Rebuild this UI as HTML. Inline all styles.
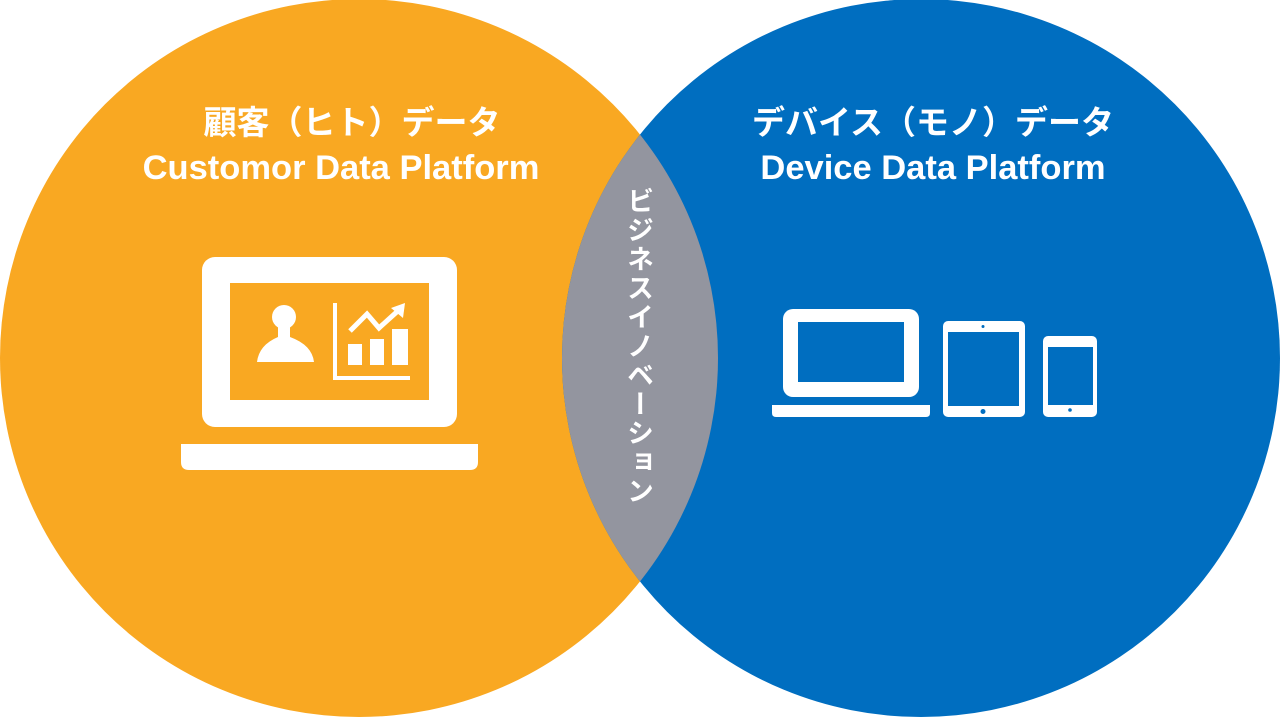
<!DOCTYPE html>
<html><head><meta charset="utf-8"><style>
body{margin:0;width:1280px;height:717px;overflow:hidden;background:#fff;position:relative}
svg{display:block}
text{font-family:"Liberation Sans","Noto Sans CJK JP",sans-serif;font-weight:bold;fill:#fff}
.v{position:absolute;left:623px;top:187px;width:34px;writing-mode:vertical-rl;text-orientation:upright;font-family:"Noto Sans CJK JP",sans-serif;font-size:27px;line-height:34px;letter-spacing:2px;color:#fff;font-weight:bold}
</style></head><body>
<svg width="1280" height="717" viewBox="0 0 1280 717">
<defs><clipPath id="lc"><circle cx="359" cy="358" r="359"/></clipPath></defs>
<circle cx="359" cy="358" r="359" fill="#F9A822"/>
<circle cx="921" cy="358" r="359" fill="#006EC0"/>
<circle cx="921" cy="358" r="359" fill="#93959F" clip-path="url(#lc)"/>
<text x="352" y="134" font-size="33" text-anchor="middle">顧客（ヒト）データ</text>
<text x="341" y="179" font-size="34.5" text-anchor="middle">Customor Data Platform</text>
<text x="933" y="134" font-size="33" text-anchor="middle">デバイス（モノ）データ</text>
<text x="933" y="179" font-size="34.5" text-anchor="middle">Device Data Platform</text>
<!-- left laptop -->
<rect x="202" y="257" width="255" height="170" rx="13" fill="#fff"/>
<rect x="230" y="283" width="199" height="117" fill="#F9A822"/>
<path d="M181 444H478V462Q478 470 470 470H189Q181 470 181 462Z" fill="#fff"/>
<circle cx="284" cy="317" r="12" fill="#fff"/>
<path d="M278 325h12v12q22 8 24 25h-57q2-17 21-25z" fill="#fff"/>
<rect x="333" y="303" width="4" height="77" fill="#fff"/>
<rect x="333" y="376" width="77" height="4" fill="#fff"/>
<rect x="348" y="344" width="14" height="21" fill="#fff"/>
<rect x="370" y="339" width="14" height="26" fill="#fff"/>
<rect x="392" y="329" width="16" height="36" fill="#fff"/>
<polyline points="350,331 367,314 379,328 400,309" fill="none" stroke="#fff" stroke-width="5"/>
<polygon points="405,303 403,318 391,308" fill="#fff"/>
<!-- right devices -->
<rect x="783" y="309" width="136" height="88" rx="10" fill="#fff"/>
<rect x="798" y="322" width="106" height="60" fill="#006EC0"/>
<path d="M772 405H930V413Q930 417 926 417H776Q772 417 772 413Z" fill="#fff"/>
<rect x="943" y="321" width="82" height="96" rx="5" fill="#fff"/>
<rect x="948" y="332" width="71" height="74" fill="#006EC0"/>
<circle cx="983" cy="326.5" r="1.5" fill="#006EC0"/>
<circle cx="983" cy="411.5" r="2.5" fill="#006EC0"/>
<rect x="1043" y="336" width="54" height="81" rx="5" fill="#fff"/>
<rect x="1048" y="347" width="45" height="58" fill="#006EC0"/>
<circle cx="1070" cy="410" r="1.8" fill="#006EC0"/>
</svg>
<div class="v">ビジネスイノベーション</div>
</body></html>
